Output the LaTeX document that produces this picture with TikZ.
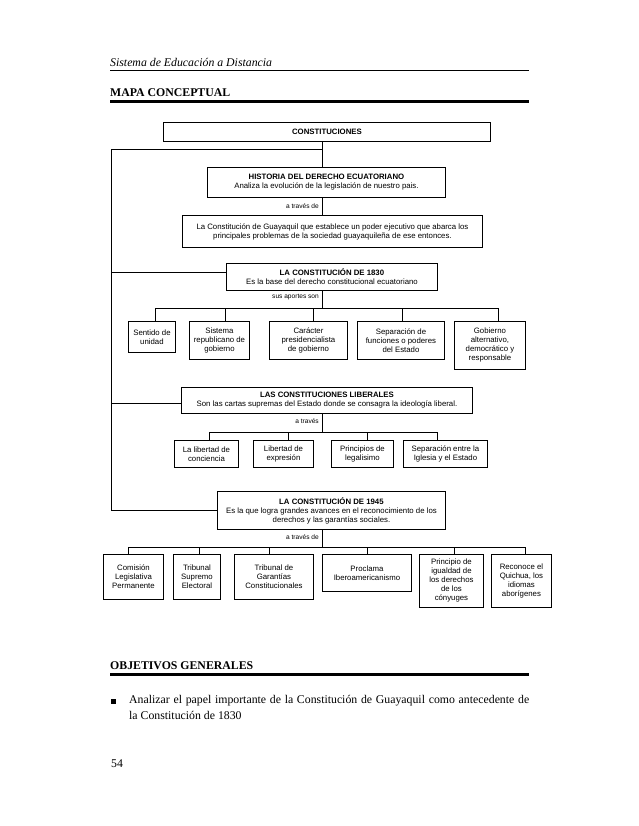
\documentclass[tikz,border=0pt]{standalone}
\usepackage{fontspec}
\setmainfont{Liberation Serif}
\newfontfamily\arial{Liberation Sans}
\tikzset{
  box/.style={draw, line width=0.9pt, inner sep=0pt, align=center, font=\arial\fontsize{7.8}{9}\selectfont},
  lbl/.style={inner sep=0pt, font=\arial\fontsize{6.6}{7.5}\selectfont, anchor=east},
  conn/.style={line width=0.9pt},
  txt/.style={inner sep=0pt, anchor=base west},
}
\newcommand\bx[6]{%
  \pgfmathsetmacro\bxw{#4-#2}%
  \pgfmathsetmacro\bxh{#5-#3}%
  \node[box, minimum width=\bxw pt, minimum height=\bxh pt, anchor=north west] (#1) at (#2,#3) {#6};}
\begin{document}
\begin{tikzpicture}[x=1pt,y=-1pt]
\fill[white] (0,0) rectangle (638,826);
\useasboundingbox (0,0) rectangle (638,826);
% header
\node[txt, font=\itshape\fontsize{11.8}{13}\selectfont] (hdr) at (110,66.5) {Sistema de Educación a Distancia};
\draw[line width=0.6pt] (110,70) -- (529,70);
\node[txt, font=\bfseries\fontsize{11.8}{13}\selectfont] (mapa) at (110,97) {MAPA CONCEPTUAL};
\draw[line width=3pt] (110,102) -- (529,102);
% boxes
\bx{const}{163}{122}{490}{141}{\textbf{CONSTITUCIONES}}
\bx{hist}{207}{167}{445}{197}{\textbf{HISTORIA DEL DERECHO ECUATORIANO}\\Analiza la evolución de la legislación de nuestro pais.}
\bx{guay}{182}{215}{482}{247}{La Constitución de Guayaquil que establece un poder ejecutivo que abarca los\\principales problemas de la sociedad guayaquileña de ese entonces.}
\bx{c30}{226}{263}{437}{290}{\textbf{LA CONSTITUCIÓN DE 1830}\\Es la base del derecho constitucional ecuatoriano}
\bx{s1}{128}{321}{175}{352}{Sentido de\\unidad}
\bx{s2}{189}{321}{249}{359}{Sistema\\republicano de\\gobierno}
\bx{s3}{269}{321}{347}{359}{Carácter\\presidencialista\\de gobierno}
\bx{s4}{357}{321}{444}{359}{Separación de\\funciones o poderes\\del Estado}
\bx{s5}{454}{321}{525}{369}{Gobierno\\alternativo,\\democrático y\\responsable}
\bx{lib}{181}{387}{472}{413}{\textbf{LAS CONSTITUCIONES LIBERALES}\\Son las cartas supremas del Estado donde se consagra la ideología liberal.}
\bx{l1}{174}{440}{238}{467}{La libertad de\\conciencia}
\bx{l2}{253}{440}{313}{467}{Libertad de\\expresión}
\bx{l3}{331}{440}{393}{467}{Principios de\\legalisimo}
\bx{l4}{403}{440}{487}{467}{Separación entre la\\Iglesia y el Estado}
\bx{c45}{217}{491}{445}{529}{\textbf{LA CONSTITUCIÓN DE 1945}\\Es la que logra grandes avances en el reconocimiento de los\\derechos y las garantías sociales.}
\bx{t1}{103}{554}{163}{599}{Comisión\\Legislativa\\Permanente}
\bx{t2}{173}{554}{220}{599}{Tribunal\\Supremo\\Electoral}
\bx{t3}{234}{554}{313}{599}{Tribunal de\\Garantías\\Constitucionales}
\bx{t4}{322}{554}{411}{591}{Proclama\\Iberoamericanismo}
\bx{t5}{419}{554}{483}{607}{Principio de\\igualdad de\\los derechos\\de los\\cónyuges}
\bx{t6}{491}{554}{551}{607}{Reconoce el\\Quichua, los\\idiomas\\aborígenes}
% labels
\node[lbl] (a1) at (319,206) {a través de};
\node[lbl] (a2) at (319,297.5) {sus aportes son};
\node[lbl] (a3) at (319,421) {a través};
\node[lbl] (a4) at (319,537) {a través de};
% connectors
\coordinate (sp) at (322,149);
\coordinate (lt) at (111,149);
\coordinate (j30) at (111,272.5);
\coordinate (jlib) at (111,403);
\coordinate (b1) at (322,308);
\coordinate (b2) at (322,432);
\coordinate (b3) at (322,547);
\draw[conn] (const.south -| sp) -- (hist.north -| sp);
\draw[conn] (sp) -- (lt) -- (lt |- c45.west) -- (c45.west);
\draw[conn] (j30) -- (j30 -| c30.west);
\draw[conn] (jlib) -- (jlib -| lib.west);
\draw[conn] (hist.south -| sp) -- (guay.north -| sp);
\draw[conn] (c30.south -| sp) -- (b1);
\draw[conn] (lib.south -| sp) -- (b2);
\draw[conn] (c45.south -| sp) -- (b3);
\draw[conn] ([xshift=3.5pt]s1.north |- b1) -- ([xshift=8.5pt]s5.north |- b1);
\foreach \n/\d in {s1/3.5, s2/6, s3/5, s4/1.5, s5/8.5}
  \draw[conn] ([xshift=\d pt]\n.north) -- ([xshift=\d pt]\n.north |- b1);
\draw[conn] ([xshift=3pt]l1.north |- b2) -- ([xshift=-8pt]l4.north |- b2);
\foreach \n/\d in {l1/3, l2/5, l3/5, l4/-8}
  \draw[conn] ([xshift=\d pt]\n.north) -- ([xshift=\d pt]\n.north |- b2);
\draw[conn] ([xshift=-5pt]t1.north |- b3) -- ([xshift=4pt]t6.north |- b3);
\foreach \n/\d in {t1/-5, t2/2.5, t3/-4.5, t4/0, t5/3, t6/4}
  \draw[conn] ([xshift=\d pt]\n.north) -- ([xshift=\d pt]\n.north |- b3);
% objetivos
\node[txt, font=\bfseries\fontsize{11.8}{13}\selectfont] (obj) at (110,669) {OBJETIVOS GENERALES};
\draw[line width=3pt] (110,674.5) -- (529,674.5);
\fill (110.5,699) rectangle (115.5,704);
\node[inner sep=0pt, anchor=north west, text width=400pt, align=justify, font=\fontsize{11.8}{16}\selectfont] (par) at (129,695.5) {Analizar el papel importante de la Constitución de Guayaquil como antecedente de\linebreak la Constitución de 1830};
\node[txt, font=\fontsize{11.8}{13}\selectfont] (pg) at (111,767) {54};
\end{tikzpicture}
\end{document}
